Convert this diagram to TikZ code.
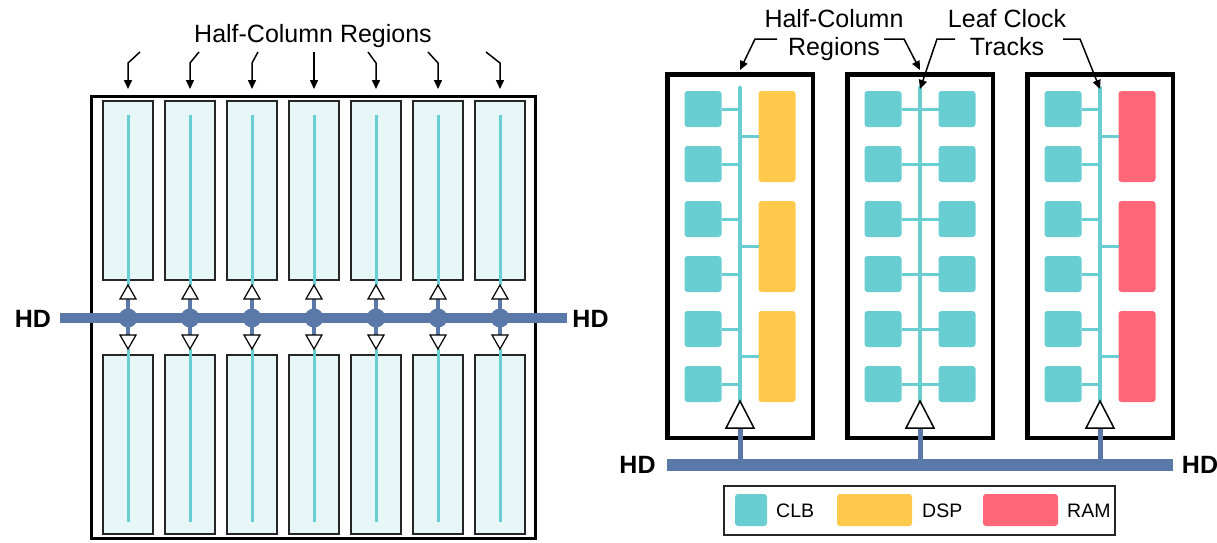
\documentclass[tikz,border=0pt]{standalone}
\usepackage{fontspec}
\setmainfont{Liberation Sans}
\usetikzlibrary{arrows.meta}
\definecolor{clbc}{HTML}{68CED2}
\definecolor{dspc}{HTML}{FFCA4B}
\definecolor{ramc}{HTML}{FF6678}
\definecolor{busc}{HTML}{5A78A8}
\definecolor{palec}{HTML}{E7F7F7}
\begin{document}
\begin{tikzpicture}[x=1pt,y=-1pt,
  colbox/.style={draw=black!85, line width=2pt, fill=palec, minimum width=50pt, minimum height=179pt, inner sep=0pt, outer sep=0pt},
  cline/.style={draw=clbc, line width=3pt},
  tri/.style={draw=black, line width=1.2pt, fill=white, line join=miter},
  stemline/.style={draw=busc, line width=4pt},
  busline/.style={draw=busc, line width=10pt},
  hd/.style={font=\fontsize{25}{28}\selectfont\bfseries, inner sep=0pt},
  lbl/.style={font=\fontsize{25}{28}\selectfont, inner sep=0pt, anchor=base},
  ptr/.style={draw=black, line width=1.5pt, -{Triangle[length=9pt,width=8pt]}, line join=miter},
  rbox/.style={draw=black, line width=4.5pt, minimum width=145.5pt, minimum height=363.5pt, inner sep=0pt, outer sep=0pt},
  blk/.style={inner sep=0pt, outer sep=0pt, rounded corners=3pt, minimum width=37pt},
  clb/.style={blk, fill=clbc, minimum height=36pt},
  dsp/.style={blk, fill=dspc, minimum height=91pt},
  ram/.style={blk, fill=ramc, minimum height=91pt},
  vtrack/.style={draw=clbc, line width=4.5pt, line cap=round},
  htrack/.style={draw=clbc, line width=3pt},
  legtxt/.style={font=\fontsize{19.5}{22}\selectfont, inner sep=0pt, anchor=base west},
  swatch/.style={inner sep=0pt, outer sep=0pt, rounded corners=3pt, minimum height=32pt},
]
\useasboundingbox (0,0) rectangle (1217,542);

% ---------------- left panel ----------------
\node[draw, line width=3pt, minimum width=444pt, minimum height=442pt, inner sep=0pt, outer sep=0pt] (Lframe) at (313.5,317.5) {};
\node[lbl] (lhc) at (313,42) {Half-Column Regions};

\foreach \i/\dx/\by in {0/12/63,1/9/63,2/6/63,3/0/63,4/-8/63,5/-10/63,6/-14/63} {
  \pgfmathsetmacro\x{128+62*\i}
  \node[colbox] (T\i) at (\x,190.5) {};
  \node[colbox] (B\i) at (\x,444.5) {};
  \coordinate (ts\i) at (\x,115);
  \coordinate (be\i) at (\x,522);
  \coordinate (ua\i) at (\x,285);
  \coordinate (ub\i) at (\x,299);
  \coordinate (db\i) at (\x,335);
  \coordinate (da\i) at (\x,349);
  \coordinate (dot\i) at (\x,318);
  \coordinate (as\i) at (\x+\dx,52);
  \coordinate (ak\i) at (\x,\by);
  \coordinate (at\i) at (\x,89);
  \draw[ptr] (as\i) -- (ak\i) -- (at\i);
}
\foreach \i in {0,...,6} {
  \draw[cline] (ts\i) -- (ua\i);
  \draw[cline] (da\i) -- (be\i);
  \draw[stemline] (ub\i) -- (db\i);
  \draw[tri] (ua\i) -- ++(8,14) -- ++(-16,0) -- cycle;
  \draw[tri] (da\i) -- ++(8,-14) -- ++(-16,0) -- cycle;
}
\coordinate (lbusL) at (60,318);
\coordinate (lbusR) at (567,318);
\draw[busline] (lbusL) -- (lbusR);
\foreach \i in {0,...,6} { \fill[busc] (dot\i) circle (9.5); }
\node[hd] (lhdL) at (33,318.5) {HD};
\node[hd] (lhdR) at (590.5,318.5) {HD};

% ---------------- right panel ----------------
\node[lbl] (rhc1) at (834,27) {Half-Column};
\node[lbl] (rhc2) at (834,55) {Regions};
\node[lbl] (rlc1) at (1007,27) {Leaf Clock};
\node[lbl] (rlc2) at (1007,55) {Tracks};

\foreach \j/\cx in {1/740,2/920,3/1100} {
  \node[rbox] (R\j) at (\cx,256) {};
  \coordinate (vt\j) at (\cx,88);
  \coordinate (va\j) at (\cx,401);
  \coordinate (vb\j) at (\cx,428);
  \coordinate (vs\j) at (\cx,465);
  \draw[vtrack] (vt\j) -- (va\j);
  \foreach \r in {0,...,5} {
    \pgfmathsetmacro\yy{109+55*\r}
    \node[clb] (cl\j\r) at (\cx-37,\yy) {};
    \coordinate (hl\j\r) at (\cx,\yy);
    \draw[htrack] (cl\j\r.east) -- (hl\j\r);
  }
}
% box 2 right CLBs
\foreach \r in {0,...,5} {
  \pgfmathsetmacro\yy{109+55*\r}
  \node[clb] (cr\r) at (957,\yy) {};
  \coordinate (hr\r) at (920,\yy);
  \draw[htrack] (cr\r.west) -- (hr\r);
}
% box 1 DSPs and box 3 RAMs
\foreach \q in {0,1,2} {
  \pgfmathsetmacro\yy{136.5+110*\q}
  \node[dsp] (ds\q) at (777,\yy) {};
  \coordinate (hd\q) at (740,\yy);
  \draw[htrack] (ds\q.west) -- (hd\q);
  \node[ram] (rm\q) at (1137,\yy) {};
  \coordinate (hm\q) at (1100,\yy);
  \draw[htrack] (rm\q.west) -- (hm\q);
}
\coordinate (rbusL) at (667,465);
\coordinate (rbusR) at (1173,465);
\foreach \j in {1,2,3} {
  \draw[draw=busc, line width=5pt] (vb\j) -- (vs\j);
  \draw[tri, line width=1.5pt] (va\j) -- ++(14,27) -- ++(-28,0) -- cycle;
}
\draw[draw=busc, line width=12pt] (rbusL) -- (rbusR);
\node[hd] (rhdL) at (637.5,465) {HD};
\node[hd] (rhdR) at (1200,465) {HD};

% pointers
\coordinate (p1s) at (777,39); \coordinate (p1k) at (755,39); \coordinate (p1t) at (740,70);
\coordinate (p2s) at (884,39); \coordinate (p2k) at (904,39); \coordinate (p2t) at (920,70);
\coordinate (p3s) at (955,39); \coordinate (p3k) at (937,39); \coordinate (p3t) at (920,89);
\coordinate (p4s) at (1063,39); \coordinate (p4k) at (1080,39); \coordinate (p4t) at (1100,89);
\draw[ptr] (p1s) -- (p1k) -- (p1t);
\draw[ptr] (p2s) -- (p2k) -- (p2t);
\draw[ptr] (p3s) -- (p3k) -- (p3t);
\draw[ptr] (p4s) -- (p4k) -- (p4t);

% legend
\node[draw=black!85, line width=2pt, minimum width=391pt, minimum height=49pt, inner sep=0pt, outer sep=0pt] (leg) at (919.5,510.5) {};
\node[swatch, fill=clbc, minimum width=32pt] (sw1) at (751,510) {};
\node[swatch, fill=dspc, minimum width=75pt] (sw2) at (874.5,510) {};
\node[swatch, fill=ramc, minimum width=75pt] (sw3) at (1020.5,510) {};
\node[legtxt] (t1) at (776,517) {CLB};
\node[legtxt] (t2) at (922,517) {DSP};
\node[legtxt] (t3) at (1067,517) {RAM};
\end{tikzpicture}
\end{document}
